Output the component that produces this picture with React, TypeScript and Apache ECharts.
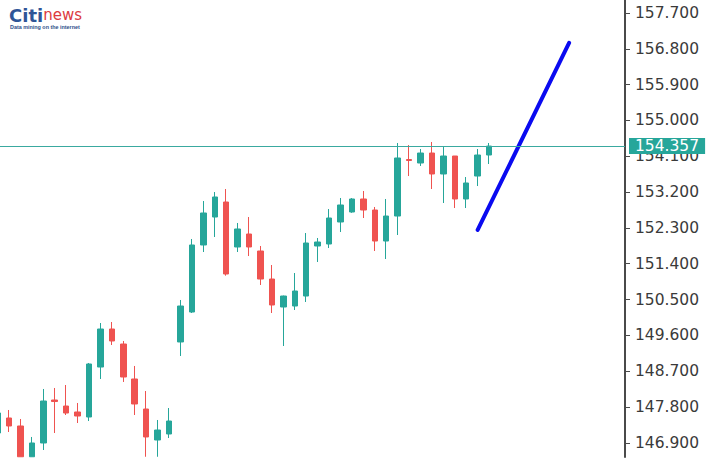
import React, { useEffect, useRef } from "react";
import * as echarts from "echarts";

// Candle OHLC values (one entry per candle, left to right)
const opens = [
  147.147, 147.524, 147.323, 146.55, 146.896, 147.976, 147.825, 147.675, 147.549, 148.805,
  149.76, 149.383, 148.504, 147.75, 146.971, 147.122, 149.434, 150.187, 151.871, 152.574,
  152.951, 151.821, 152.147, 151.72, 151.016, 150.313, 150.338, 150.589, 151.846, 151.896,
  152.449, 152.7, 153.027, 152.75, 151.971, 152.599, 154.019, 153.931, 154.182, 153.655,
  154.107, 153.027, 153.604, 154.132,
];
const closes = [
  147.65, 147.323, 146.55, 146.896, 147.951, 147.938, 147.649, 147.574, 148.881, 149.76,
  149.459, 148.554, 147.876, 147.047, 147.222, 147.448, 150.338, 151.871, 152.675, 153.077,
  151.142, 152.273, 151.821, 151.016, 150.363, 150.589, 150.715, 151.921, 151.946, 152.549,
  152.876, 153.027, 152.75, 151.971, 152.599, 154.057, 153.994, 154.182, 153.655, 154.107,
  153.027, 153.429, 154.132, 154.357,
];
const lows = [
  147.05, 147.172, 146.55, 146.55, 146.72, 147.147, 147.599, 147.398, 147.448, 148.504,
  149.358, 148.429, 147.599, 146.55, 146.55, 147.021, 149.082, 150.162, 151.695, 152.072,
  151.1, 151.695, 151.594, 150.866, 150.162, 149.333, 150.238, 150.439, 151.444, 151.795,
  152.197, 152.68, 152.549, 151.72, 151.519, 152.122, 153.604, 153.856, 153.278, 152.926,
  152.8, 152.8, 153.353, 153.906,
];
const highs = [
  147.78, 147.725, 147.499, 147.047, 148.253, 148.278, 148.353, 147.901, 148.906, 149.911,
  149.936, 149.459, 148.831, 148.202, 147.474, 147.775, 150.489, 152.022, 152.976, 153.202,
  153.278, 152.424, 152.574, 151.846, 151.368, 150.6, 151.167, 152.172, 152.047, 152.775,
  153.052, 153.05, 153.228, 152.826, 153.027, 154.434, 154.383, 154.283, 154.459, 154.358,
  154.107, 153.579, 154.283, 154.434,
];

// Drawn trend line (candle index, price)
const trendIdx = [42, 50];
const trendPrice = [152.25, 156.95];

const currentPrice = 154.357;
const yTicks = [
  146.9, 147.8, 148.7, 149.6, 150.5, 151.4, 152.3, 153.2, 154.1, 155.0, 155.9, 156.8, 157.7,
];

export default function App() {
  const ref = useRef<HTMLDivElement>(null);
  useEffect(() => {
    if (!ref.current) return;
    const chart = echarts.init(ref.current, undefined, { renderer: "svg" });
    const candles = opens.map((o, i) => [i, o, closes[i], lows[i], highs[i]]);
    const trend = trendIdx.map((x, i) => [x, trendPrice[i]]);
    const font = "DejaVu Sans, Verdana, sans-serif";
    chart.setOption({
      animation: false,
      backgroundColor: "#ffffff",
      grid: { left: 0, top: 0, right: 92, bottom: 15 },
      xAxis: { type: "value", min: 0.2126, max: 54.89, show: false },
      yAxis: {
        type: "value",
        position: "right",
        min: 146.544,
        max: 158.027,
        splitLine: { show: false },
        axisLine: { show: true, lineStyle: { color: "#4a4a4a", width: 2 } },
        axisTick: {
          show: true,
          length: 5,
          customValues: yTicks,
          lineStyle: { color: "#4a4a4a", width: 1 },
        },
        axisLabel: {
          customValues: yTicks,
          margin: 10,
          color: "#3a3a3a",
          fontFamily: font,
          fontSize: 15.5,
          formatter: (v: number) => v.toFixed(3),
        },
      },
      graphic: [
        {
          type: "text",
          left: 9,
          top: 6,
          style: {
            text: "{a|Citi}{b|news}",
            rich: {
              a: { fontFamily: font, fontSize: 18, lineHeight: 17, fontWeight: "bold", fill: "#2f5597" },
              b: { fontFamily: font, fontSize: 15, lineHeight: 17, fill: "#dc3a40" },
            },
          },
        },
        {
          type: "text",
          left: 10,
          top: 24.5,
          style: {
            text: "Data mining on the internet",
            fontFamily: "Liberation Sans, Arial, sans-serif",
            fontSize: 5.4,
            fontWeight: "bold",
            fill: "#2f4f8a",
          },
        },
      ],
      series: [
        {
          type: "candlestick",
          data: candles,
          barWidth: 6,
          itemStyle: {
            color: "#26a69a",
            color0: "#ef5350",
            borderColor: "#26a69a",
            borderColor0: "#ef5350",
            borderWidth: 1,
          },
          markLine: {
            silent: true,
            symbol: ["none", "none"],
            data: [{ yAxis: currentPrice }],
            lineStyle: { color: "#3aa9a0", width: 1, type: "solid" },
            label: {
              show: true,
              position: "end",
              distance: 4,
              formatter: currentPrice.toFixed(3),
              backgroundColor: "#26a69a",
              color: "#ffffff",
              fontFamily: font,
              fontSize: 15.5,
              lineHeight: 16,
              padding: [0, 6, 0, 6],
            },
          },
        },
        {
          type: "line",
          data: trend,
          symbol: "none",
          lineStyle: { color: "#0a0af0", width: 4, cap: "round" },
        },
      ],
    });
    return () => chart.dispose();
  }, []);
  return (
    <div
      ref={ref}
      style={{ position: "fixed", left: 0, top: 0, width: 717, height: 472, background: "#fff" }}
    />
  );
}
